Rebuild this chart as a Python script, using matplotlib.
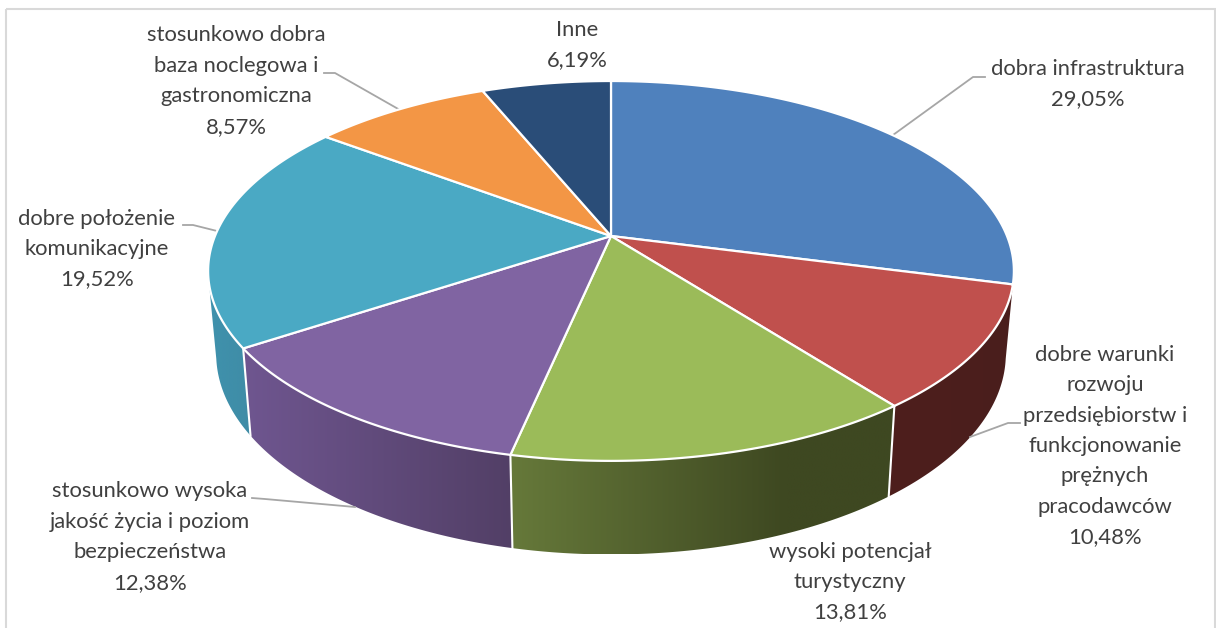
import numpy as np
import matplotlib
matplotlib.use("Agg")
import matplotlib.pyplot as plt
from matplotlib.patches import Polygon, Rectangle

plt.rcParams['font.family'] = ['Lato', 'DejaVu Sans']

# -------- DATA --------
names = [
    "dobra infrastruktura",
    "dobre warunki\nrozwoju\nprzedsiębiorstw i\nfunkcjonowanie\nprężnych\npracodawców",
    "wysoki potencjał\nturystyczny",
    "stosunkowo wysoka\njakość życia i poziom\nbezpieczeństwa",
    "dobre położenie\nkomunikacyjne",
    "stosunkowo dobra\nbaza noclegowa i\ngastronomiczna",
    "Inne",
]
values = [29.05, 10.48, 13.81, 12.38, 19.52, 8.57, 6.19]

top_colors = ["#4f81bd", "#c0504d", "#9bbb59", "#8064a2", "#4aa9c4", "#f39645", "#2a4d78"]
wall_left = [None, "#4e1f1d", "#66793a", "#6f5690", "#3f92ad", None, None]
wall_right = [None, "#4a1e1c", "#3e4821", "#523f66", "#3f8ca6", None, None]
wall_stop = [1, 1, 0.72, 1, 1, 1, 1]  # where the gradient reaches its right colour

label_pos = [(1088, 84), (1105, 446), (850, 582), (150, 537), (97, 249), (236, 81), (577, 45)]
leaders = [
    [(893, 135), (973, 77), (985, 77)],
    [(970, 437), (1008, 423), (1020, 423)],
    [(355, 507), (265, 499), (252, 498)],
    [(217, 231), (193, 225), (183, 225)],
    [(400, 110), (335, 73), (324, 73)],
]

# -------- PIE GEOMETRY (pixels) --------
cx, cy = 611, 236
A, B, P = 396, 183.5, 0.184
X_SCALE, Y_SCALE, DROP = 0.98, 1.056, 81
TANGENT_R, TANGENT_L = np.radians(102), np.radians(258)


def top_rim(t):
    # perspective view of the upper circle, t clockwise from 12 o'clock
    d = 1 + P * np.cos(t)
    return A * np.sin(t) / d, B * np.cos(t) / d


def to_px(x, y):
    return np.column_stack([cx + x, cy - y])


def rim_px(t):
    return to_px(*top_rim(t))


def bottom_px(t):
    x, y = top_rim(t)
    return to_px(x * X_SCALE, y * Y_SCALE - DROP)


edges = np.radians(np.concatenate([[0], np.cumsum(values)]) * 3.6)

fig = plt.figure(figsize=(12.16, 6.28), dpi=100)
ax = fig.add_axes([0, 0, 1, 1])

# frame
ax.add_patch(Rectangle((5.5, 8.5), 1209, 640, fill=False, ec="#d9d9d9", lw=1.5, zorder=0))

# -------- WALLS --------
for i, (c0, c1) in enumerate(zip(wall_left, wall_right)):
    if c0 is None:
        continue
    t0, t1 = edges[i], edges[i + 1]
    # outer walls end on the tangent between the two rims
    low0 = TANGENT_R if i == 1 else t0
    high = TANGENT_L if i == 4 else t1
    upper = rim_px(np.linspace(t0, high, 80))
    lower = bottom_px(np.linspace(high, low0, 80))
    pts = np.vstack([upper, lower])
    poly = Polygon(pts, closed=True, fc="none", ec="none")
    ax.add_patch(poly)
    x_min, x_max = pts[:, 0].min(), pts[:, 0].max()
    grad_x = np.clip(np.linspace(0, 1, 200) / wall_stop[i], 0, 1)[None, :, None]
    rgb0 = np.array(matplotlib.colors.to_rgb(c0))[None, None, :]
    rgb1 = np.array(matplotlib.colors.to_rgb(c1))[None, None, :]
    grad = rgb0 * (1 - grad_x) + rgb1 * grad_x
    im = ax.imshow(grad, extent=(x_min, x_max, pts[:, 1].max(), pts[:, 1].min()),
                   aspect="auto", zorder=1, interpolation="bilinear")
    im.set_clip_path(poly)
    # white seam at the slice edge
    ax.plot(*np.vstack([rim_px(np.array([t1])), bottom_px(np.array([t1]))]).T,
            color="white", lw=1.5, zorder=2)

ax.set_xlim(0, 1216)
ax.set_ylim(628, 0)
ax.axis("off")

# -------- TOP FACE --------
for i, col in enumerate(top_colors):
    arc = rim_px(np.linspace(edges[i], edges[i + 1], 120))
    pts = np.vstack([[cx, cy], arc])
    ax.add_patch(Polygon(pts, closed=True, fc=col, ec="white", lw=1.6, zorder=3, joinstyle="round"))

# -------- LABELS --------
for name, v, (lx, ly) in zip(names, values, label_pos):
    txt = name + "\n" + f"{v:.2f}%".replace(".", ",")
    ax.text(lx, ly, txt, ha="center", va="center", ma="center", fontsize=15.8,
            color="#404040", linespacing=1.65, zorder=5)

for line in leaders:
    xs, ys = zip(*line)
    ax.plot(xs, ys, color="#a6a6a6", lw=1.3, zorder=2.5)

fig.savefig("out.png", dpi=100)
